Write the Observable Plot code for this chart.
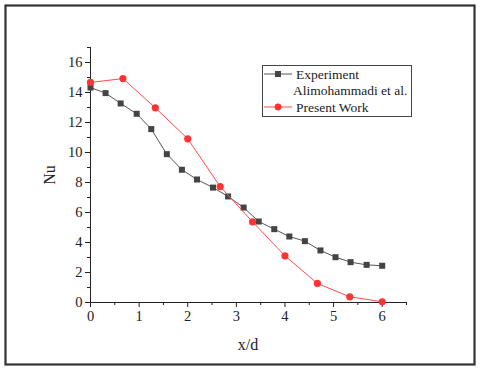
<!DOCTYPE html>
<html>
<head>
<meta charset="utf-8">
<script src="https://cdn.jsdelivr.net/npm/d3@7"></script>
<script src="https://cdn.jsdelivr.net/npm/@observablehq/plot@0.6"></script>
<style>
  html, body { margin: 0; padding: 0; background: #fff; }
  #chart { width: 480px; height: 372px; position: relative; }
</style>
</head>
<body>
<div id="chart"></div>
<script>
// Experiment (Alimohammadi et al.)
const expX = [0, 0.31, 0.62, 0.95, 1.25, 1.57, 1.88, 2.19, 2.52, 2.83, 3.15, 3.46, 3.78, 4.09, 4.41, 4.73, 5.04, 5.35, 5.68, 6.0];
const expY = [14.33, 13.96, 13.27, 12.58, 11.56, 9.89, 8.85, 8.2, 7.66, 7.07, 6.33, 5.4, 4.89, 4.4, 4.09, 3.47, 3.02, 2.69, 2.51, 2.45];
// Present Work
const preX = [0, 0.667, 1.333, 2.0, 2.667, 3.333, 4.0, 4.667, 5.333, 6.0];
const preY = [14.67, 14.93, 12.98, 10.91, 7.73, 5.38, 3.11, 1.27, 0.38, 0.05];

const xTicks = [0, 1, 2, 3, 4, 5, 6];
const xMinor = [0.5, 1.5, 2.5, 3.5, 4.5, 5.5, 6.5];
const yTicks = [0, 2, 4, 6, 8, 10, 12, 14, 16];
const yMinor = [1, 3, 5, 7, 9, 11, 13, 15, 17];

const expData = expX.map((x, i) => ({x, y: expY[i]}));
const preData = preX.map((x, i) => ({x, y: preY[i]}));

const expLine = "#555555", expMark = "#444444";
const preLine = "#ff4d4d", preMark = "#ff3333";
const FONT = '"Liberation Serif", "Times New Roman", serif';

const plot = Plot.plot({
  width: 480,
  height: 372,
  marginLeft: 90,
  marginRight: 74,
  marginTop: 47,
  marginBottom: 70,
  style: {fontFamily: FONT, fontSize: "14px", color: "#222", background: "transparent"},
  x: {domain: [0, 6.5]},
  y: {domain: [0, 17]},
  marks: [
    Plot.axisX({ticks: xTicks, tickFormat: d3.format("d"), tickSize: 5, tickPadding: 3, fontSize: 14.5, label: null, stroke: "#222"}),
    Plot.axisX({ticks: xMinor, tickSize: 3, text: null, label: null, stroke: "#222"}),
    Plot.axisY({ticks: yTicks, tickFormat: d3.format("d"), tickSize: 5, tickPadding: 3, fontSize: 14.5, label: null, stroke: "#222"}),
    Plot.axisY({ticks: yMinor, tickSize: 3, text: null, label: null, stroke: "#222"}),
    Plot.ruleY([0], {x1: 0, x2: 6.5, stroke: "#222"}),
    Plot.ruleX([0], {y1: 0, y2: 17, stroke: "#222"}),
    Plot.line(expData, {x: "x", y: "y", stroke: expLine, strokeWidth: 1}),
    Plot.dot(expData, {x: "x", y: "y", symbol: "square", r: 3.4, fill: expMark, stroke: "none"}),
    Plot.line(preData, {x: "x", y: "y", stroke: preLine, strokeWidth: 1}),
    Plot.dot(preData, {x: "x", y: "y", symbol: "circle", r: 3.6, fill: preMark, stroke: "none"})
  ]
});

document.getElementById("chart").appendChild(plot);

const svg = d3.select(plot);
// outer frame
svg.insert("rect", ":first-child")
  .attr("x", 5.5).attr("y", 5.5).attr("width", 469).attr("height", 359)
  .attr("fill", "white").attr("stroke", "#333").attr("stroke-width", 2.2);

// axis labels
svg.append("text").attr("x", 248).attr("y", 350).attr("text-anchor", "middle")
  .attr("font-size", 16).attr("fill", "#222").text("x/d");
svg.append("text").attr("transform", "translate(55,175) rotate(-90)").attr("text-anchor", "middle")
  .attr("font-size", 16).attr("fill", "#222").text("Nu");

// legend
const lg = svg.append("g").attr("text-anchor", "start");
lg.append("rect").attr("x", 262.5).attr("y", 65.5).attr("width", 149).attr("height", 51)
  .attr("fill", "white").attr("stroke", "#444").attr("stroke-width", 1);
lg.append("line").attr("x1", 264).attr("x2", 292).attr("y1", 74).attr("y2", 74).attr("stroke", expLine);
lg.append("rect").attr("x", 275).attr("y", 71).attr("width", 6).attr("height", 6).attr("fill", expMark);
lg.append("text").attr("x", 296).attr("y", 79).attr("font-size", 13.5).attr("fill", "#222").text("Experiment");
lg.append("text").attr("x", 293).attr("y", 95).attr("font-size", 13.5).attr("fill", "#222").text("Alimohammadi et al.");
lg.append("line").attr("x1", 264).attr("x2", 292).attr("y1", 107).attr("y2", 107).attr("stroke", preLine);
lg.append("circle").attr("cx", 278).attr("cy", 107).attr("r", 3.4).attr("fill", preMark);
lg.append("text").attr("x", 296).attr("y", 112).attr("font-size", 13.5).attr("fill", "#222").text("Present Work");

// force serif font on all text
svg.selectAll("text").attr("font-family", FONT).style("font-family", FONT);
svg.selectAll("g[aria-label$='axis tick label']").attr("font-family", FONT).style("font-family", FONT);
</script>
</body>
</html>
